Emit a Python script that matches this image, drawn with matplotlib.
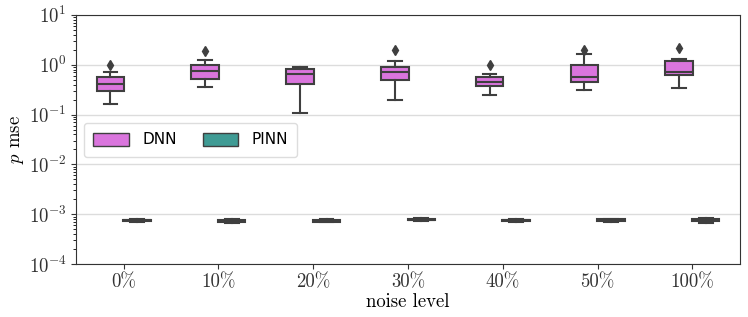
import numpy as np
import matplotlib.pyplot as plt
from matplotlib.patches import Patch

plt.rcParams['font.family'] = 'serif'
plt.rcParams['font.serif'] = ['cmr10', 'DejaVu Serif']
plt.rcParams['mathtext.fontset'] = 'cm'
plt.rcParams['axes.formatter.use_mathtext'] = True

noise = ['0%', '10%', '20%', '30%', '40%', '50%', '100%']

# DNN box statistics
dnn_lo = [0.162, 0.35, 0.107, 0.195, 0.25, 0.31, 0.345]
dnn_q1 = [0.296, 0.52, 0.42, 0.483, 0.38, 0.455, 0.61]
dnn_med = [0.417, 0.76, 0.65, 0.72, 0.455, 0.565, 0.71]
dnn_q3 = [0.565, 0.985, 0.805, 0.91, 0.57, 0.985, 1.2]
dnn_hi = [0.71, 1.22, 0.91, 1.19, 0.65, 1.61, 1.32]
dnn_fly = [1.0, 1.89, None, 1.94, 1.0, 2.0, 2.17]

# PINN box statistics
pinn_lo = [0.70e-3, 0.68e-3, 0.69e-3, 0.72e-3, 0.70e-3, 0.71e-3, 0.66e-3]
pinn_q1 = [0.72e-3, 0.70e-3, 0.71e-3, 0.75e-3, 0.72e-3, 0.73e-3, 0.73e-3]
pinn_med = [0.75e-3, 0.73e-3, 0.74e-3, 0.78e-3, 0.75e-3, 0.76e-3, 0.77e-3]
pinn_q3 = [0.78e-3, 0.77e-3, 0.77e-3, 0.82e-3, 0.78e-3, 0.80e-3, 0.81e-3]
pinn_hi = [0.80e-3, 0.79e-3, 0.79e-3, 0.84e-3, 0.80e-3, 0.82e-3, 0.83e-3]

dnn_color = '#da75dd'
pinn_color = '#3f9b94'
edge = '#3f3f3f'


def make_stats(lo, q1, med, q3, hi, fly=None):
    out = []
    for i in range(len(lo)):
        f = [] if fly is None or fly[i] is None else [fly[i]]
        out.append(dict(whislo=lo[i], q1=q1[i], med=med[i], q3=q3[i],
                        whishi=hi[i], fliers=f))
    return out


fig = plt.figure(figsize=(7.48, 3.17), dpi=100)
ax = fig.add_axes([0.102, 0.167, 0.887, 0.786])

x = np.arange(len(noise))
off = 0.14
w = 0.29
props = dict(patch_artist=True, widths=w, showfliers=True,
             boxprops=dict(edgecolor=edge, linewidth=1.5),
             medianprops=dict(color=edge, linewidth=1.5),
             whiskerprops=dict(color=edge, linewidth=1.5),
             capprops=dict(color=edge, linewidth=1.5),
             flierprops=dict(marker='d', markerfacecolor=edge,
                             markeredgecolor=edge, markersize=5))

b1 = ax.bxp(make_stats(dnn_lo, dnn_q1, dnn_med, dnn_q3, dnn_hi, dnn_fly),
            positions=x - off, **props)
b2 = ax.bxp(make_stats(pinn_lo, pinn_q1, pinn_med, pinn_q3, pinn_hi),
            positions=x + off, **props)
for p in b1['boxes']:
    p.set_facecolor(dnn_color)
for p in b2['boxes']:
    p.set_facecolor(pinn_color)

ax.set_yscale('log')
ax.set_ylim(1e-4, 1e1)
ax.set_xlim(-0.5, len(noise) - 0.5)
ax.set_xticks(x)
ax.set_xticklabels(noise)
ax.tick_params(axis='both', labelsize=13.5, colors='#333333')
ax.tick_params(axis='y', which='minor', length=2)
ax.yaxis.grid(True, which='major', color='#dcdcdc', linewidth=1)
ax.set_axisbelow(True)
for s in ax.spines.values():
    s.set_color('#333333')

ax.set_xlabel('noise level', fontsize=13.5, labelpad=1)
ax.set_ylabel('$p$ mse', fontsize=13.5, labelpad=2)

handles = [Patch(facecolor=dnn_color, edgecolor=edge, label='DNN'),
           Patch(facecolor=pinn_color, edgecolor=edge, label='PINN')]
ax.legend(handles=handles, ncol=2, loc='upper left', bbox_to_anchor=(0.012, 0.565),
          borderaxespad=0, prop={'family': 'DejaVu Sans', 'size': 11},
          handlelength=2.3, handleheight=0.9, columnspacing=1.7,
          handletextpad=0.9, borderpad=0.6,
          edgecolor='#dddddd', framealpha=1)

plt.savefig('out.png', dpi=100)
